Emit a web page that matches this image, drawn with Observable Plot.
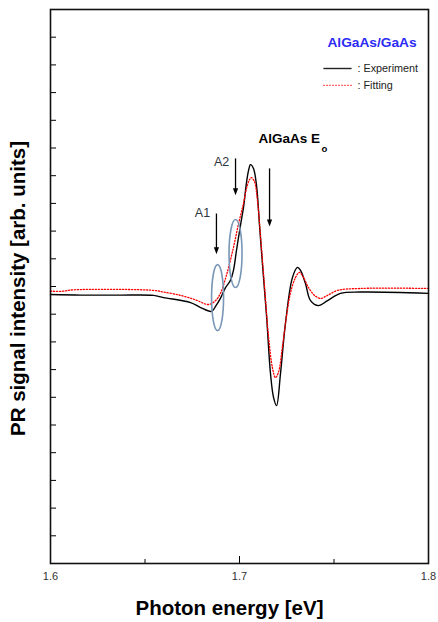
<!DOCTYPE html>
<html><head><meta charset="utf-8">
<script src="https://cdn.jsdelivr.net/npm/d3@7"></script>
<script src="https://cdn.jsdelivr.net/npm/@observablehq/plot@0.6"></script>
<style>body{margin:0;background:#fff} svg{display:block}</style>
</head><body><div id="chart"></div>
<script>
// Experiment (photon energy in eV, PR signal in arbitrary units)
const expEnergy = [1.6000,1.6159,1.6370,1.6545,1.6598,1.6741,1.6794,1.6852,1.6873,1.6899,1.6926,1.6952,1.6968,1.6984,1.7005,1.7021,1.7037,1.7048,1.7058,1.7074,1.7090,1.7106,1.7122,1.7143,1.7164,1.7180,1.7196,1.7217,1.7243,1.7280,1.7307,1.7323,1.7349,1.7376,1.7418,1.7466,1.7534,1.7640,1.8000];
const expSignal = [-0.29,-0.31,-0.31,-0.32,-0.40,-0.58,-0.76,-0.90,-0.72,-0.43,-0.04,0.22,0.58,1.30,2.20,2.85,3.75,4.19,4.40,4.26,3.65,2.20,0.76,-1.05,-3.14,-4.00,-4.30,-3.14,-1.34,0.32,0.69,0.58,0.11,-0.51,-0.69,-0.51,-0.25,-0.20,-0.25];
// Fitting
const fitEnergy = [1.6000,1.6063,1.6122,1.6545,1.6598,1.6688,1.6767,1.6836,1.6873,1.6899,1.6926,1.6942,1.6968,1.6995,1.7021,1.7037,1.7053,1.7063,1.7079,1.7095,1.7111,1.7132,1.7153,1.7175,1.7190,1.7206,1.7228,1.7249,1.7270,1.7296,1.7317,1.7339,1.7365,1.7397,1.7429,1.7466,1.7519,1.7640,1.8000];
const fitSignal = [-0.17,-0.17,-0.12,-0.14,-0.20,-0.32,-0.48,-0.65,-0.51,-0.25,0.29,0.69,1.41,2.27,3.00,3.54,3.86,3.93,3.79,3.10,1.84,0.04,-1.77,-2.96,-3.29,-3.10,-2.13,-1.05,-0.22,0.32,0.51,0.32,-0.04,-0.32,-0.43,-0.32,-0.14,-0.07,-0.07];

const xTicks = [1.6, 1.7, 1.8];
const xMinorTicks = [1.65, 1.75];
const yTicks = [-9,-8,-7,-6,-5,-4,-3,-2,-1,0,1,2,3,4,5,6,7,8,9];

// Annotations
const peakLabels = ["A1", "A2"];
const peakLabelX = [1.6804, 1.6905];
const peakLabelY = [2.67, 4.51];
const arrowX = [1.6878, 1.6979, 1.7159];
const arrowTop = [2.49, 4.48, 4.12];
const arrowTip = [1.16, 3.29, 2.17];
const ellipseX = [1.6884, 1.6979];
const ellipseY = [-0.40, 1.19];
const e0Label = ["AlGaAs E"];
const e0X = [1.7101]; const e0Y = [5.34];
const e0Sub = ["o"];
const e0SubX = [1.7434]; const e0SubY = [4.98];

// Legend
const legendTitle = ["AlGaAs/GaAs"];
const legendTitleX = [1.7701]; const legendTitleY = [8.81];
const legendNames = [": Experiment", ": Fitting"];
const legendY = [7.87, 7.26];
const legendX1 = 1.7444, legendX2 = 1.7593, legendTextX = 1.7624;

function ellipseSymbol(rx, ry) {
  const k = 0.5523;
  return {draw(c) {
    c.moveTo(rx, 0);
    c.bezierCurveTo(rx, ry * k, rx * k, ry, 0, ry);
    c.bezierCurveTo(-rx * k, ry, -rx, ry * k, -rx, 0);
    c.bezierCurveTo(-rx, -ry * k, -rx * k, -ry, 0, -ry);
    c.bezierCurveTo(rx * k, -ry, rx, -ry * k, rx, 0);
    c.closePath();
  }};
}
const headSymbol = {draw(c) { c.moveTo(0, 0); c.lineTo(-2.6, -7); c.lineTo(2.6, -7); c.closePath(); }};

const W = 438, H = 622, mL = 50, mR = 10, mT = 9, mB = 59;
const innerW = W - mL - mR, innerH = H - mT - mB;
const font = "Liberation Sans, Arial, Helvetica, sans-serif";

const chart = Plot.plot({
  width: W, height: H,
  marginLeft: mL, marginRight: mR, marginTop: mT, marginBottom: mB,
  style: {fontFamily: font, background: "#fff"},
  x: {domain: [1.6, 1.8]},
  y: {domain: [-10, 10], axis: null},
  marks: [
    Plot.ruleY(yTicks, {y: d => d, insetRight: innerW - 6, stroke: "#000", strokeWidth: 1}),
    Plot.ruleX(xTicks, {x: d => d, insetTop: innerH - 7, stroke: "#000", strokeWidth: 1}),
    Plot.ruleX(xMinorTicks, {x: d => d, insetTop: innerH - 4, stroke: "#000", strokeWidth: 1}),
    Plot.axisX(xTicks, {tickSize: 0, tickPadding: 9, tickFormat: d => d.toFixed(1), fontSize: 11, fill: "#333", label: null}),
    Plot.line(expEnergy, {x: expEnergy, y: expSignal, curve: "catmull-rom", stroke: "#000", strokeWidth: 1.4}),
    Plot.line(fitEnergy, {x: fitEnergy, y: fitSignal, curve: "catmull-rom", stroke: "#ff0000", strokeWidth: 1.3, strokeDasharray: "1.2,1.8"}),
    Plot.dot(ellipseX.slice(0,1), {x: ellipseX.slice(0,1), y: ellipseY.slice(0,1), symbol: ellipseSymbol(6, 33), stroke: "#7896b6", strokeWidth: 1.6, fill: "none"}),
    Plot.dot(ellipseX.slice(1), {x: ellipseX.slice(1), y: ellipseY.slice(1), symbol: ellipseSymbol(6.5, 34), stroke: "#7896b6", strokeWidth: 1.6, fill: "none"}),
    Plot.link(arrowX, {x1: arrowX, x2: arrowX, y1: arrowTop, y2: arrowTip, stroke: "#000", strokeWidth: 1.3, dy: -4}),
    Plot.dot(arrowX, {x: arrowX, y: arrowTip, symbol: headSymbol, fill: "#000", stroke: "none"}),
    Plot.text(peakLabels, {x: peakLabelX, y: peakLabelY, text: d => d, fontSize: 12.5, fill: "#2e3640"}),
    Plot.text(e0Label, {x: e0X, y: e0Y, text: d => d, textAnchor: "start", fontSize: 13.5, fontWeight: "bold", fill: "#000"}),
    Plot.text(e0Sub, {x: e0SubX, y: e0SubY, text: d => d, textAnchor: "start", fontSize: 9.5, fontWeight: "bold", fill: "#000"}),
    Plot.text(legendTitle, {x: legendTitleX, y: legendTitleY, text: d => d, fontSize: 13.7, fontWeight: "bold", fill: "#2b2bf5"}),
    Plot.link(legendNames.slice(0,1), {x1: [legendX1], x2: [legendX2], y1: legendY.slice(0,1), y2: legendY.slice(0,1), stroke: "#222", strokeWidth: 1.4}),
    Plot.link(legendNames.slice(1), {x1: [legendX1], x2: [legendX2], y1: legendY.slice(1), y2: legendY.slice(1), stroke: "#ff0000", strokeWidth: 1.2, strokeDasharray: "1.2,1.8"}),
    Plot.text(legendNames, {x: legendNames.map(() => legendTextX), y: legendY, text: d => d, textAnchor: "start", fontSize: 10.8, fill: "#222"}),
    Plot.frame({stroke: "#111", strokeWidth: 1.6}),
    Plot.text(["PR signal intensity [arb. units]"], {frameAnchor: "left", textAnchor: "middle", lineAnchor: "middle", dx: -32, dy: 2, rotate: -90, text: d => d, fontSize: 20.5, fontWeight: "bold", fill: "#000"}),
    Plot.text(["Photon energy [eV]"], {frameAnchor: "bottom", textAnchor: "middle", lineAnchor: "middle", dx: -10, dy: 45, text: d => d, fontSize: 20.5, fontWeight: "bold", fill: "#000"})
  ]
});
document.getElementById("chart").appendChild(chart);
</script>
</body></html>
